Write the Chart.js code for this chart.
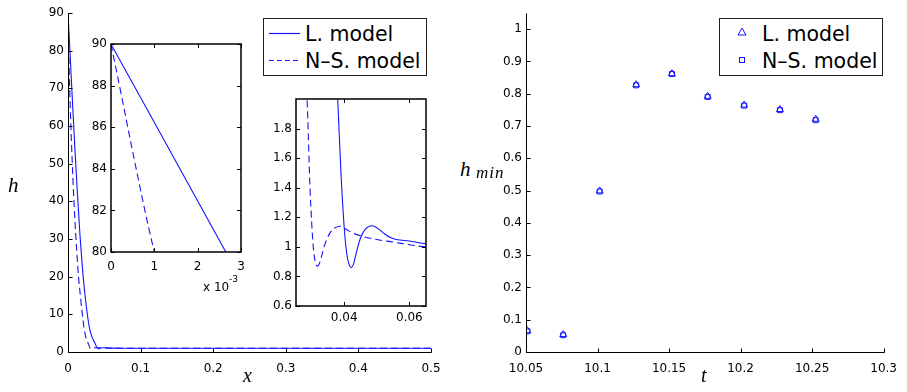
<!DOCTYPE html>
<html>
<head>
<meta charset="utf-8">
<script src="https://cdn.jsdelivr.net/npm/chart.js@4.4.1/dist/chart.umd.min.js"></script>
<style>
  html, body { margin: 0; padding: 0; background: #fff; }
  #fig { position: relative; width: 907px; height: 392px; overflow: hidden; font-family: 'DejaVu Sans', sans-serif; color: #000; }
  #fig canvas { position: absolute; }
  .lbl { position: absolute; font-family: 'Liberation Serif', 'DejaVu Serif', serif; font-style: italic; line-height: 1; white-space: nowrap; z-index: 5; }
  .txt { position: absolute; line-height: 1; white-space: nowrap; z-index: 5; }
  .legbox { position: absolute; border: 1.5px solid #222; background: #fff; box-sizing: border-box; z-index: 4; }
  .leg { position: absolute; font-size: 20.5px; line-height: 1; white-space: nowrap; z-index: 5; }
  svg.mk { position: absolute; overflow: visible; z-index: 5; }
</style>
</head>
<body>
<div id="fig">
  <canvas id="mainChart" width="443" height="382" style="left:8px;top:0px"></canvas>
  <canvas id="inset1" width="172" height="241" style="left:81px;top:33px"></canvas>
  <canvas id="inset2" width="172" height="242" style="left:266px;top:88px"></canvas>
  <canvas id="rightChart" width="431" height="382" style="left:476px;top:0px"></canvas>

  <!-- axis titles -->
  <div class="lbl" style="left:8px;top:175px;font-size:21px">h</div>
  <div class="lbl" style="left:243px;top:365px;font-size:20px">x</div>
  <div class="lbl" style="left:701px;top:365px;font-size:20px">t</div>
  <div class="lbl" style="left:460px;top:159px;font-size:21px">h</div>
  <div class="lbl" style="left:476px;top:164px;font-size:17px;letter-spacing:1px">min</div>
  <div class="txt" style="left:203px;top:281px;font-size:12px">x 10</div>
  <div class="txt" style="left:229px;top:275px;font-size:9px">-3</div>

  <!-- left legend -->
  <div class="legbox" style="left:263px;top:18px;width:164px;height:58px"></div>
  <svg class="mk" style="left:269px;top:33px" width="32" height="2"><line x1="0" y1="0.5" x2="31" y2="0.5" stroke="#1414ff" stroke-width="1.2"/></svg>
  <svg class="mk" style="left:269px;top:60px" width="32" height="2"><line x1="0" y1="0.5" x2="31" y2="0.5" stroke="#1414ff" stroke-width="1.2" stroke-dasharray="5,3"/></svg>
  <div class="leg" style="left:305px;top:24px">L. model</div>
  <div class="leg" style="left:305px;top:51px">N–S. model</div>

  <!-- right legend -->
  <div class="legbox" style="left:719px;top:18px;width:164px;height:58px"></div>
  <svg class="mk" style="left:737px;top:27px" width="10" height="10"><polygon points="5,1 9,8 1,8" fill="none" stroke="#1414ff" stroke-width="1"/></svg>
  <svg class="mk" style="left:737px;top:55px" width="10" height="10"><rect x="2.5" y="2.5" width="5" height="5" fill="none" stroke="#1414ff" stroke-width="1"/></svg>
  <div class="leg" style="left:762px;top:24px">L. model</div>
  <div class="leg" style="left:762px;top:51px">N–S. model</div>
</div>

<script>
// ---- data: film thickness profile h(x) ----
const lX = [0, 0.00265, 0.006, 0.0095, 0.013, 0.0165, 0.020, 0.0235, 0.027, 0.030, 0.033, 0.0355, 0.037, 0.038, 0.039, 0.040,
  0.0408, 0.0415, 0.0421, 0.0428, 0.0437, 0.045, 0.0465, 0.0485, 0.050, 0.052, 0.054, 0.056, 0.060, 0.065, 0.08, 0.1, 0.2, 0.3, 0.4, 0.5];
const lH = [90, 80, 67, 54, 42, 31, 22, 15, 9.5, 6, 4, 2.9, 2.4, 2.0, 1.5, 1.13,
  0.95, 0.88, 0.86, 0.88, 0.96, 1.06, 1.12, 1.143, 1.13, 1.095, 1.065, 1.05, 1.04, 1.022, 1.01, 1.0, 1.0, 1.0, 1.0, 1.0];

const nsX = [0, 0.001, 0.0025, 0.0045, 0.007, 0.0095, 0.012, 0.0145, 0.017, 0.0195, 0.022, 0.0245, 0.0265, 0.0286, 0.0295,
  0.0305, 0.0312, 0.0318, 0.0326, 0.0338, 0.0355, 0.0372, 0.0388, 0.0405, 0.0425, 0.045, 0.050, 0.055, 0.060, 0.065, 0.08, 0.1, 0.2, 0.3, 0.4, 0.5];
const nsH = [90, 80, 69, 57, 45, 35, 27, 20, 15, 10.5, 6.5, 4, 2.8, 2.0, 1.4,
  1.0, 0.89, 0.87, 0.9, 1.0, 1.09, 1.13, 1.14, 1.12, 1.095, 1.075, 1.05, 1.033, 1.015, 1.0, 0.99, 1.0, 1.0, 1.0, 1.0, 1.0];

// ---- data: minimum thickness vs time ----
const tVals = [10.051, 10.076, 10.1015, 10.127, 10.152, 10.177, 10.2025, 10.2275, 10.2525];
const hMinL = [0.066, 0.054, 0.499, 0.828, 0.862, 0.792, 0.765, 0.751, 0.721];
const hMinNS = [0.064, 0.052, 0.497, 0.826, 0.861, 0.790, 0.763, 0.749, 0.718];

// ---- tick values ----
const mainXTicks = [0, 0.1, 0.2, 0.3, 0.4, 0.5];
const mainYTicks = [0, 10, 20, 30, 40, 50, 60, 70, 80, 90];
const in1XTicks = [0, 0.001, 0.002, 0.003];
const in1YTicks = [80, 82, 84, 86, 88, 90];
const in2XTicks = [0.04, 0.06];
const in2YTicks = [0.6, 0.8, 1, 1.2, 1.4, 1.6, 1.8];
const rXTicks = [10.05, 10.1, 10.15, 10.2, 10.25, 10.3];
const rYTicks = [0, 0.1, 0.2, 0.3, 0.4, 0.5, 0.6, 0.7, 0.8, 0.9, 1];

const BLUE = '#1414ff';
Chart.defaults.font.family = "'DejaVu Sans', sans-serif";
Chart.defaults.font.size = 12;
Chart.defaults.color = '#000';

const fmt = v => String(+v.toFixed(4));

function axis(ticksArr, min, max, size, pad, cb) {
  return {
    type: 'linear', min, max,
    grid: { display: false, drawTicks: false },
    border: { display: false },
    ticks: { autoSkip: false, maxRotation: 0, minRotation: 0, padding: pad, callback: cb || fmt },
    afterBuildTicks: s => { s.ticks = ticksArr.map(v => ({ value: v })); },
    afterFit: s => { if (s.isHorizontal()) s.height = size; else s.width = size; }
  };
}

// matlab-ish axes: inward ticks, optional full box
function frame(box, lw, len) {
  return {
    id: 'frame',
    beforeDatasetsDraw(chart) {
      if (!box) return;
      const a = chart.chartArea, ctx = chart.ctx;
      ctx.save();
      ctx.fillStyle = '#fff';
      ctx.fillRect(a.left, a.top, a.right - a.left, a.bottom - a.top);
      ctx.restore();
    },
    afterDatasetsDraw(chart) {
      const { ctx, chartArea: a, scales } = chart;
      const off = box ? 0 : 0.5;
      const L = Math.round(a.left) + off, R = Math.round(a.right) + off;
      const T = Math.round(a.top) + off, B = Math.round(a.bottom) + off;
      ctx.save();
      ctx.strokeStyle = '#000';
      ctx.lineWidth = lw;
      ctx.beginPath();
      ctx.moveTo(L, T); ctx.lineTo(L, B); ctx.lineTo(R, B);
      if (box) { ctx.lineTo(R, T); ctx.closePath(); }
      ctx.stroke();
      ctx.lineWidth = 1;
      ctx.beginPath();
      scales.x.ticks.forEach(t => {
        const px = Math.round(scales.x.getPixelForValue(t.value)) + 0.5;
        ctx.moveTo(px, B); ctx.lineTo(px, B - len);
        if (box) { ctx.moveTo(px, T); ctx.lineTo(px, T + len); }
      });
      scales.y.ticks.forEach(t => {
        const py = Math.round(scales.y.getPixelForValue(t.value)) + 0.5;
        ctx.moveTo(L, py); ctx.lineTo(L + len, py);
        if (box) { ctx.moveTo(R, py); ctx.lineTo(R - len, py); }
      });
      ctx.stroke();
      ctx.restore();
    }
  };
}

function profileSets() {
  const mk = (xs, ys, label, dash) => ({
    label,
    data: xs.map((x, i) => ({ x, y: ys[i] })),
    borderColor: BLUE, borderWidth: 1.1, borderDash: dash,
    pointRadius: 0, fill: false, cubicInterpolationMode: 'monotone'
  });
  return [mk(lX, lH, 'L. model', []), mk(nsX, nsH, 'N–S. model', [7, 4])];
}

const common = {
  responsive: false, animation: false, events: [],
  plugins: { legend: { display: false }, tooltip: { enabled: false } }
};

new Chart(document.getElementById('mainChart'), {
  type: 'line',
  data: { datasets: profileSets() },
  options: Object.assign({}, common, {
    layout: { autoPadding: false, padding: { top: 13, right: 20, left: 0, bottom: 0 } },
    scales: {
      x: axis(mainXTicks, 0, 0.5, 30, 10),
      y: axis(mainYTicks, 0, 90, 60, 4)
    }
  }),
  plugins: [frame(false, 1, 4)]
});

new Chart(document.getElementById('inset1'), {
  type: 'line',
  data: { datasets: profileSets() },
  options: Object.assign({}, common, {
    layout: { autoPadding: false, padding: { top: 10, right: 12, left: 0, bottom: 0 } },
    scales: {
      x: axis(in1XTicks, 0, 0.003, 22, 8, v => String(Math.round(v * 1000))),
      y: axis(in1YTicks, 80, 90, 30, 4)
    }
  }),
  plugins: [frame(true, 1.5, 4)]
});

new Chart(document.getElementById('inset2'), {
  type: 'line',
  data: { datasets: profileSets() },
  options: Object.assign({}, common, {
    layout: { autoPadding: false, padding: { top: 10, right: 12, left: 0, bottom: 0 } },
    scales: {
      x: axis(in2XTicks, 0.0252, 0.0651, 24, 5),
      y: axis(in2YTicks, 0.6, 2.0, 30, 4)
    }
  }),
  plugins: [frame(true, 1.5, 4)]
});

new Chart(document.getElementById('rightChart'), {
  type: 'scatter',
  data: {
    datasets: [
      { label: 'L. model', data: tVals.map((t, i) => ({ x: t, y: hMinL[i] })),
        pointStyle: 'triangle', pointRadius: 4, borderColor: BLUE, backgroundColor: 'rgba(0,0,0,0)', borderWidth: 1 },
      { label: 'N–S. model', data: tVals.map((t, i) => ({ x: t, y: hMinNS[i] })),
        pointStyle: 'rect', pointRadius: 3.5, borderColor: BLUE, backgroundColor: 'rgba(0,0,0,0)', borderWidth: 1 }
    ]
  },
  options: Object.assign({}, common, {
    layout: { autoPadding: false, padding: { top: 13, right: 19, left: 0, bottom: 0 } },
    scales: {
      x: axis(rXTicks, 10.05, 10.3, 30, 10),
      y: axis(rYTicks, 0, 1.05, 50, 4)
    }
  }),
  plugins: [frame(false, 1, 4)]
});
</script>
</body>
</html>
